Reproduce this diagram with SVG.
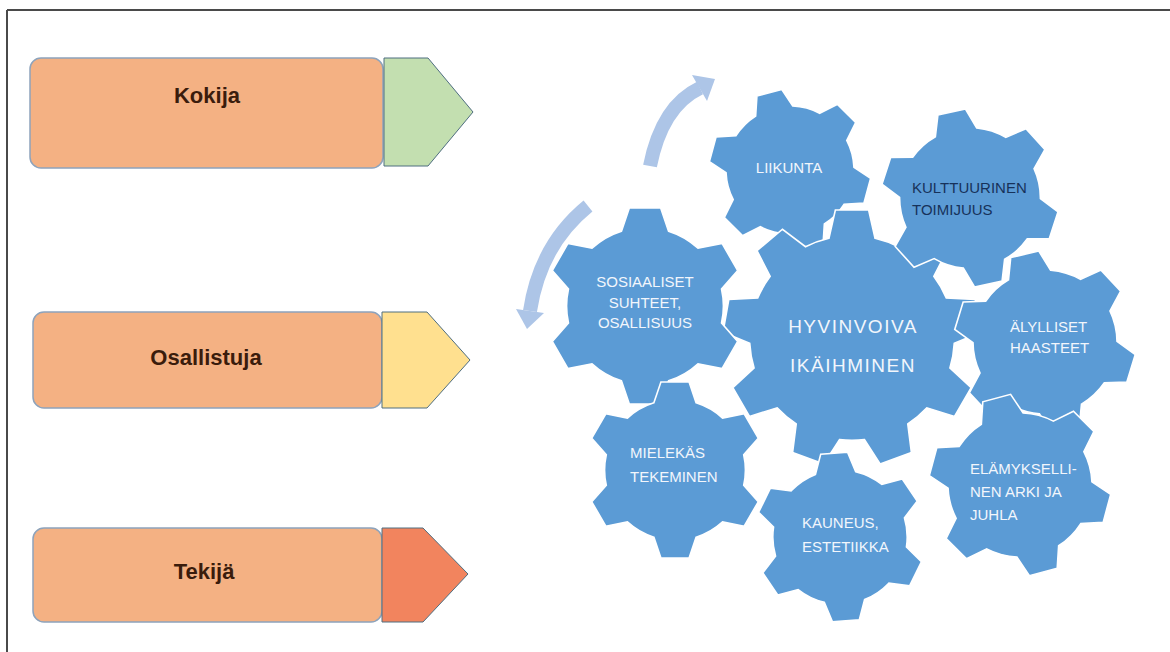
<svg xmlns="http://www.w3.org/2000/svg" width="1170" height="652" viewBox="0 0 1170 652">
<style>
.gear{fill:#5B9BD5;stroke:#FFFFFF;stroke-width:1.6;vector-effect:non-scaling-stroke}
.gt{font-family:"Liberation Sans",Arial,sans-serif;font-size:15px;fill:#F2F6FC}
.big{font-family:"Liberation Sans",Arial,sans-serif;font-size:19px;fill:#F2F6FC;letter-spacing:1.5px}
.dark{fill:#17325A}
.box{fill:#F4B183;stroke:#8DA3BC;stroke-width:1.5}
.tip{stroke:#4F6E80;stroke-width:1}
.bt{font-family:"Liberation Sans",Arial,sans-serif;font-size:22px;font-weight:bold;fill:#3A1C0C;text-anchor:middle}
.arc{fill:none;stroke:#ADC5E7;stroke-width:14}
.head{fill:#ADC5E7}
</style>
<defs>
<path id="g6" class="gear" d="M -24,-76.32 L -16,-100 L 16,-100 L 24,-76.32 A 80 80 0 0 1 54.09,-58.94 L 78.6,-63.86 L 94.6,-36.14 L 78.09,-17.38 A 80 80 0 0 1 78.09,17.38 L 94.6,36.14 L 78.6,63.86 L 54.09,58.94 A 80 80 0 0 1 24,76.32 L 16,100 L -16,100 L -24,76.32 A 80 80 0 0 1 -54.09,58.94 L -78.6,63.86 L -94.6,36.14 L -78.09,17.38 A 80 80 0 0 1 -78.09,-17.38 L -94.6,-36.14 L -78.6,-63.86 L -54.09,-58.94 A 80 80 0 0 1 -24,-76.32 Z"/>
<path id="g9" class="gear" d="M -18,-77.95 L -13,-100 L 13,-100 L 18,-77.95 A 80 80 0 0 1 36.32,-71.28 L 54.32,-84.96 L 74.24,-68.24 L 63.9,-48.14 A 80 80 0 0 1 73.65,-31.26 L 96.22,-30.16 L 100.74,-4.56 L 79.89,4.2 A 80 80 0 0 1 76.51,23.39 L 93.1,38.74 L 80.1,61.26 L 58.51,54.57 A 80 80 0 0 1 43.57,67.09 L 46.42,89.52 L 21.98,98.42 L 9.75,79.41 A 80 80 0 0 1 -9.75,79.41 L -21.98,98.42 L -46.42,89.52 L -43.57,67.09 A 80 80 0 0 1 -58.51,54.57 L -80.1,61.26 L -93.1,38.74 L -76.51,23.39 A 80 80 0 0 1 -79.89,4.2 L -100.74,-4.56 L -96.22,-30.16 L -73.65,-31.26 A 80 80 0 0 1 -63.9,-48.14 L -74.24,-68.24 L -54.32,-84.96 L -36.32,-71.28 A 80 80 0 0 1 -18,-77.95 Z"/>
</defs>
<rect width="1170" height="652" fill="#FFFFFF"/>
<g id="frame" stroke="#4A4A4A" stroke-width="2">
<line x1="7" y1="10" x2="1170" y2="10"/>
<line x1="7" y1="10" x2="7" y2="652"/>
</g>
<g id="kokija">
<rect class="box" x="30" y="58" width="353" height="110" rx="11"/>
<polygon class="tip" fill="#C3DFB0" points="384,58 428,58 473,112 428,166 384,166"/>
<text class="bt" x="207" y="103">Kokija</text>
</g>
<g id="osallistuja">
<rect class="box" x="33" y="312" width="349" height="96" rx="11"/>
<polygon class="tip" fill="#FFE08F" points="382,312 427,312 470,360 427,408 382,408"/>
<text class="bt" x="206" y="365">Osallistuja</text>
</g>
<g id="tekija">
<rect class="box" x="33" y="528" width="349" height="94" rx="11"/>
<polygon class="tip" fill="#F2845E" points="382,528 423,528 468,574 423,622 382,622"/>
<text class="bt" x="204" y="579">Tekijä</text>
</g>
<g id="connectors">
<path class="arc" d="M 650,166 Q 662,106 700,88"/>
<polygon class="head" points="715,79 707,101 692,75"/>
<path class="arc" d="M 588,206 Q 540,245 530,311"/>
<polygon class="head" points="527,329 544,313 516,309"/>
</g>
<g id="liikunta">
<use href="#g6" transform="translate(790,170) rotate(-15) scale(0.8)"/>
<text class="gt" x="789" y="173" text-anchor="middle">LIIKUNTA</text>
</g>
<g id="hyvinvoiva">
<use href="#g9" transform="translate(852,338) scale(1.28)"/>
<text class="big" x="853" y="333" text-anchor="middle">HYVINVOIVA</text>
<text class="big" x="853" y="372" text-anchor="middle">IKÄIHMINEN</text>
</g>
<g id="sosiaaliset">
<use href="#g6" transform="translate(645,306) scale(0.98)"/>
<text class="gt" x="645" y="287" text-anchor="middle">SOSIAALISET</text>
<text class="gt" x="645" y="308" text-anchor="middle">SUHTEET,</text>
<text class="gt" x="645" y="328" text-anchor="middle">OSALLISUUS</text>
</g>
<g id="kulttuurinen">
<use href="#g6" transform="translate(970,198) rotate(-12) scale(0.88)"/>
<text class="gt dark" x="912" y="193">KULTTUURINEN</text>
<text class="gt dark" x="912" y="215">TOIMIJUUS</text>
</g>
<g id="alylliset">
<use href="#g6" transform="translate(1045,342) rotate(-13) scale(0.9)"/>
<text class="gt" x="1010" y="332">ÄLYLLISET</text>
<text class="gt" x="1010" y="353">HAASTEET</text>
</g>
<g id="elamyksellinen">
<use href="#g6" transform="translate(1020,485) rotate(-15) scale(0.9)"/>
<text class="gt" x="970" y="474">ELÄMYKSELLI-</text>
<text class="gt" x="970" y="497">NEN ARKI JA</text>
<text class="gt" x="970" y="520">JUHLA</text>
</g>
<g id="kauneus">
<use href="#g6" transform="translate(840,537) rotate(-4) scale(0.84)"/>
<text class="gt" x="802" y="528">KAUNEUS,</text>
<text class="gt" x="802" y="552">ESTETIIKKA</text>
</g>
<g id="mielekas">
<use href="#g6" transform="translate(675,470) scale(0.88)"/>
<text class="gt" x="630" y="458">MIELEKÄS</text>
<text class="gt" x="630" y="482">TEKEMINEN</text>
</g>
</svg>
